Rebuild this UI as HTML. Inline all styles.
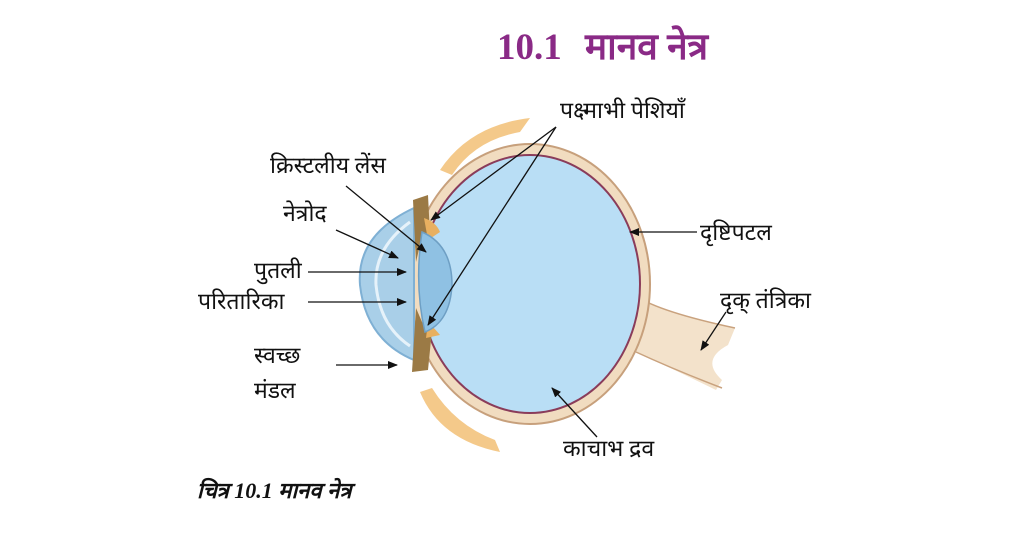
<!DOCTYPE html>
<html><head><meta charset="utf-8"><style>
body{margin:0;background:#fff;}
svg text{font-family:"Liberation Serif","Noto Serif CJK SC","Noto Sans CJK SC",serif;}
</style></head><body>
<svg width="1024" height="538" viewBox="0 0 1024 538" xmlns="http://www.w3.org/2000/svg">
<defs>
<marker id="a" markerWidth="10" markerHeight="8" refX="9" refY="4" orient="auto" markerUnits="userSpaceOnUse">
<path d="M0,0 L10,4 L0,8 z" fill="#111"/></marker>
</defs>
<text x="497" y="59" font-size="37" font-weight="bold" fill="#8a2a86">10.1</text>
<text x="585" y="59" font-size="37" font-weight="bold" fill="#8a2a86">मानव नेत्र</text>
<path d="M440,170 Q470,125 530,118 L520,132 Q475,140 452,175 z" fill="#f4c98a"/>
<path d="M420,392 Q440,440 500,452 L495,440 Q455,425 432,388 z" fill="#f4c98a"/>
<!-- optic nerve -->
<path d="M636,296 Q660,312 735,328 L728,345 Q700,360 722,380 L716,390 Q675,370 636,352 z" fill="#f3e2cb"/>
<path d="M636,296 Q660,312 735,328" fill="none" stroke="#c9a27e" stroke-width="1.5"/>
<path d="M636,352 Q675,370 722,388" fill="none" stroke="#c9a27e" stroke-width="1.5"/>
<ellipse cx="530" cy="284" rx="120" ry="140" fill="#f1dcc0" stroke="#c7a07c" stroke-width="2"/>
<path d="M414,208 Q356,235 360,285 Q366,340 414,360 z" fill="#a9cfe8" stroke="#7fb0d4" stroke-width="2"/>
<path d="M410,222 Q374,248 376,285 Q380,326 410,346" fill="none" stroke="#e6f2fa" stroke-width="3"/>
<ellipse cx="530" cy="284" rx="110" ry="129" fill="#b9def5" stroke="#8a3c5a" stroke-width="2"/>
<path d="M413,200 L428,195 L430,235 L420,245 L416,262 Z" fill="#9b7a45"/>
<path d="M416,308 L422,322 L432,330 L428,370 L412,372 Z" fill="#9b7a45"/>
<path d="M424,218 Q436,222 440,232 L428,240 Z" fill="#e8b060"/>
<path d="M428,322 Q436,330 440,335 L426,338 Z" fill="#e8b060"/>
<path d="M422,232 Q452,245 452,285 Q450,322 425,332 Q414,285 422,232 z" fill="#8fc1e3" stroke="#6e9fc4" stroke-width="1.5"/>
<g font-size="23" fill="#111">
<text x="560" y="118">पक्ष्माभी पेशियाँ</text>
<text x="270" y="173">क्रिस्टलीय लेंस</text>
<text x="283" y="221">नेत्रोद</text>
<text x="254" y="278">पुतली</text>
<text x="198" y="309">परितारिका</text>
<text x="254" y="363">स्वच्छ</text>
<text x="254" y="398">मंडल</text>
<text x="700" y="240">दृष्टिपटल</text>
<text x="720" y="308">दृक् तंत्रिका</text>
<text x="563" y="456">काचाभ द्रव</text>
<text x="197" y="498" font-weight="bold" font-style="italic" font-size="22">चित्र 10.1 मानव नेत्र</text>
</g>
<g stroke="#111" stroke-width="1.3" fill="none" marker-end="url(#a)">
<line x1="556" y1="127" x2="431" y2="220"/>
<line x1="556" y1="127" x2="428" y2="325"/>
<line x1="346" y1="186" x2="426" y2="252"/>
<line x1="336" y1="230" x2="398" y2="258"/>
<line x1="308" y1="272" x2="406" y2="272"/>
<line x1="308" y1="302" x2="406" y2="302"/>
<line x1="336" y1="365" x2="397" y2="365"/>
<line x1="697" y1="232" x2="630" y2="232"/>
<line x1="726" y1="312" x2="701" y2="350"/>
<line x1="597" y1="437" x2="552" y2="388"/>
</g>
</svg>
</body></html>
